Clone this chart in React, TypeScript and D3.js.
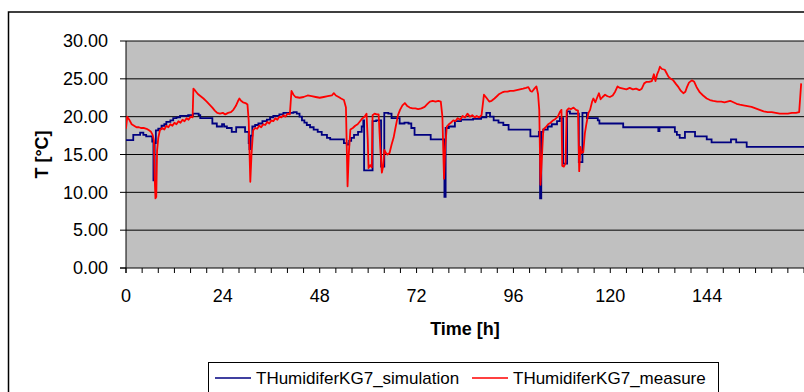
import React from "react";
import * as d3 from "d3";

// Measured humidifier temperature: [time h, T °C]
const measureSeries: [number, number][] = [
  [0, 18.4], [0.3, 20.0], [0.8, 19.6], [1.4, 19.0], [2.0, 18.8], [2.6, 18.6], [3.2, 18.6], [3.8, 18.5],
  [4.5, 18.5], [5.1, 18.4], [5.7, 18.2], [6.2, 18.0], [6.6, 17.6], [6.9, 16.9], [7.1, 12.0], [7.3, 9.2],
  [7.5, 9.4], [7.7, 15.5], [8.0, 17.2], [8.4, 18.2], [9.0, 18.5], [9.5, 18.3], [10.0, 18.8], [10.5, 18.6],
  [11.0, 19.0], [11.5, 18.8], [12.0, 19.2], [12.5, 19.0], [13.0, 19.4], [13.5, 19.2], [14.0, 19.6],
  [14.5, 19.4], [15.0, 19.8], [15.5, 19.6], [16.0, 20.0], [16.5, 19.9], [16.7, 23.7], [17.2, 23.4],
  [17.8, 23.0], [18.5, 22.7], [19.2, 22.4], [20.0, 22.0], [20.7, 21.6], [21.4, 21.2], [22.0, 20.8],
  [22.6, 20.5], [23.3, 20.4], [24.0, 20.5], [24.6, 20.3], [25.3, 20.5], [26.0, 20.6], [26.6, 20.9],
  [27.2, 21.4], [27.7, 22.0], [28.1, 22.4], [28.5, 22.1], [29.0, 21.9], [29.6, 21.8], [30.1, 21.6],
  [30.4, 19.5], [30.8, 11.4], [31.1, 15.0], [31.5, 18.2], [32.0, 18.5], [32.5, 18.4], [33.0, 18.8],
  [33.5, 18.6], [34.0, 19.0], [34.5, 18.9], [35.0, 19.3], [35.5, 19.1], [36.0, 19.5], [36.5, 19.4],
  [37.0, 19.8], [37.5, 19.6], [38.0, 20.0], [38.5, 19.9], [39.0, 20.2], [39.5, 20.0], [40.0, 20.4],
  [40.6, 20.3], [41.0, 23.4], [41.5, 22.9], [42.0, 22.6], [43.0, 22.5], [44.0, 22.6], [45.0, 22.8],
  [46.0, 22.7], [47.0, 22.6], [48.0, 22.5], [49.0, 22.6], [50.0, 22.7], [51.0, 22.8], [51.5, 23.1],
  [52.0, 22.8], [52.7, 22.6], [53.3, 22.4], [54.0, 22.2], [54.5, 21.2], [54.9, 10.8], [55.2, 15.0],
  [55.6, 18.3], [56.2, 18.5], [56.8, 18.8], [57.4, 19.0], [58.0, 19.4], [58.6, 19.8], [59.1, 20.0],
  [59.6, 20.4], [59.9, 17.0], [60.1, 13.2], [60.5, 13.6], [60.9, 13.3], [61.1, 20.2], [61.6, 20.4],
  [62.1, 20.3], [62.6, 20.3], [63.0, 16.0], [63.4, 12.6], [63.7, 13.4], [64.0, 15.6], [64.4, 15.2],
  [64.8, 15.0], [65.3, 15.2], [65.8, 16.3], [66.3, 17.2], [66.8, 18.6], [67.4, 20.2], [67.9, 20.9],
  [68.5, 21.5], [69.1, 21.8], [69.7, 21.4], [70.3, 21.2], [71.0, 21.1], [71.7, 21.1], [72.4, 21.0],
  [73.2, 21.1], [74.0, 21.3], [74.7, 21.7], [75.3, 22.0], [76.0, 22.1], [76.7, 22.0], [77.4, 22.1],
  [78.0, 22.0], [78.4, 20.0], [78.8, 11.8], [79.1, 16.0], [79.5, 18.7], [80.0, 19.0], [80.5, 19.2],
  [81.1, 19.5], [81.6, 19.4], [82.2, 19.8], [82.8, 19.6], [83.4, 20.1], [84.0, 19.9], [84.6, 20.4],
  [85.2, 20.0], [85.8, 20.2], [86.4, 19.9], [86.9, 20.1], [87.5, 19.9], [88.1, 20.2], [88.7, 22.9],
  [89.3, 22.5], [90.0, 22.0], [90.6, 22.1], [91.3, 22.4], [91.9, 22.7], [92.5, 23.0], [93.2, 23.2],
  [93.8, 23.3], [94.5, 23.3], [95.2, 23.4], [96.0, 23.4], [96.8, 23.5], [97.6, 23.6], [98.4, 23.7],
  [99.1, 23.8], [99.7, 23.9], [100.2, 23.4], [100.6, 23.3], [101.2, 23.7], [101.7, 24.0], [102.1, 23.0],
  [102.4, 20.9], [102.7, 11.0], [103.0, 14.0], [103.4, 18.3], [104.0, 18.6], [104.6, 19.0], [105.2, 19.2],
  [105.8, 19.5], [106.4, 19.7], [107.0, 20.0], [107.5, 20.6], [107.9, 20.9], [108.1, 13.5], [108.5, 13.4],
  [108.9, 13.8], [109.2, 20.8], [109.7, 21.1], [110.3, 21.0], [110.9, 21.2], [111.5, 20.9], [112.0, 20.8],
  [112.3, 12.8], [112.6, 16.0], [112.9, 15.2], [113.3, 15.3], [113.7, 17.8], [114.1, 19.1], [114.6, 20.5],
  [115.0, 20.9], [115.5, 22.0], [115.8, 22.4], [116.3, 21.9], [116.8, 22.6], [117.2, 23.1], [117.6, 22.3],
  [118.1, 22.6], [118.7, 22.9], [119.3, 22.7], [119.9, 22.6], [120.6, 22.8], [121.2, 23.3], [121.8, 24.0],
  [122.4, 23.8], [123.2, 23.7], [124.0, 23.6], [124.8, 23.8], [125.6, 23.6], [126.4, 23.7], [127.2, 23.5],
  [127.8, 23.7], [128.4, 24.4], [129.0, 24.6], [129.6, 24.6], [130.3, 24.7], [130.8, 25.6], [131.2, 24.7],
  [131.6, 25.6], [132.0, 26.1], [132.3, 26.6], [132.8, 26.3], [133.5, 26.2], [134.0, 25.7], [134.4, 25.3],
  [135.0, 25.0], [135.6, 24.8], [136.3, 24.3], [136.9, 23.9], [137.5, 23.4], [138.1, 23.1], [138.6, 23.3],
  [139.0, 23.9], [139.5, 24.5], [140.2, 24.8], [140.8, 24.6], [141.4, 23.9], [142.2, 23.2], [143.0, 22.8],
  [143.9, 22.4], [144.7, 22.2], [145.5, 22.1], [146.5, 22.0], [147.5, 22.0], [148.3, 21.9], [149.0, 22.0],
  [149.7, 22.1], [150.5, 21.9], [151.3, 21.7], [152.1, 21.6], [153.0, 21.5], [154.0, 21.4], [155.0, 21.3],
  [156.0, 21.1], [157.0, 20.9], [158.0, 20.7], [159.0, 20.6], [160.0, 20.6], [161.0, 20.5], [162.0, 20.4],
  [163.0, 20.4], [164.0, 20.4], [165.0, 20.5], [166.0, 20.5], [166.8, 20.6], [167.3, 24.4],
];

// Simulated humidifier temperature (stepwise output): [time h, T °C]
const simulationSeries: [number, number][] = [
  [0, 16.9], [1.8, 17.6], [3.5, 17.9], [4.3, 17.6], [5.0, 17.4], [6.5, 16.7], [6.8, 11.6], [7.1, 16.5],
  [7.4, 18.2], [8.0, 18.4], [8.8, 18.8], [9.5, 19.0], [10.0, 19.3], [11.0, 19.5], [11.7, 19.8],
  [12.5, 19.9], [13.4, 20.1], [15.4, 20.2], [16.6, 20.4], [18.0, 20.2], [18.4, 19.8], [21.4, 19.1],
  [22.5, 18.7], [23.8, 19.0], [24.3, 18.7], [25.0, 18.5], [26.2, 18.0], [27.3, 18.6], [29.5, 18.0],
  [30.4, 16.5], [30.6, 15.7], [30.9, 17.5], [31.3, 18.7], [32.0, 18.9], [32.8, 19.1], [33.8, 19.4],
  [34.9, 19.6], [35.7, 19.9], [36.5, 20.1], [38.0, 20.3], [39.0, 20.5], [41.5, 20.6], [42.3, 20.4],
  [43.0, 20.0], [43.6, 19.5], [44.2, 19.2], [44.8, 18.9], [45.6, 18.6], [46.5, 18.3], [47.5, 18.0],
  [48.5, 17.6], [49.8, 17.2], [50.6, 17.0], [54.0, 16.5], [54.7, 16.3], [55.3, 16.8], [55.8, 17.2],
  [56.5, 17.6], [57.5, 18.0], [58.4, 18.7], [58.8, 19.5], [59.0, 12.9], [61.1, 19.4], [62.0, 19.5],
  [63.2, 13.4], [64.0, 20.5], [65.0, 20.4], [65.8, 19.8], [67.8, 19.1], [69.0, 19.2], [70.0, 19.1],
  [70.7, 18.5], [71.5, 17.6], [75.5, 17.0], [78.9, 9.4], [79.2, 18.5], [80.0, 18.7], [81.5, 19.4],
  [83.0, 19.6], [86.0, 19.7], [88.0, 19.9], [89.3, 20.5], [90.2, 20.0], [91.1, 19.5], [92.3, 19.2],
  [93.5, 18.9], [94.8, 18.3], [100.2, 17.4], [102.3, 18.0], [102.6, 9.2], [102.9, 18.0], [103.4, 18.3],
  [104.5, 18.7], [105.5, 19.0], [106.8, 19.4], [107.5, 19.8], [108.3, 13.8], [109.3, 20.7], [110.0, 20.4],
  [112.2, 14.0], [113.1, 20.5], [114.2, 19.8], [116.9, 19.5], [117.3, 19.1], [123.2, 18.6], [131.9, 18.1],
  [132.2, 18.6], [136.0, 18.0], [136.5, 17.6], [137.2, 17.2], [138.5, 18.0], [141.0, 17.4], [143.9, 17.0],
  [145.1, 16.6], [149.9, 17.0], [151.2, 16.6], [153.8, 16.0], [168, 16.0],
];

const yTicks = [0, 5, 10, 15, 20, 25, 30];
const xMinorTicks = d3.range(0, 169, 4);
const xLabelTicks = [0, 24, 48, 72, 96, 120, 144];

const seriesNames = ["THumidiferKG7_simulation", "THumidiferKG7_measure"];
const seriesColors = ["#000080", "#FF0000"];

const W = 804;
const H = 392;
const plot = { left: 126, right: 804, top: 41, bottom: 268 };
const font = "Arial, 'Liberation Sans', Helvetica, sans-serif";

export default function App() {
  const x = d3.scaleLinear().domain([0, 168]).range([plot.left, plot.right]);
  const y = d3.scaleLinear().domain([0, 30]).range([plot.bottom, plot.top]);

  const measureLine = d3
    .line<[number, number]>()
    .x((d) => x(d[0]))
    .y((d) => y(d[1]))
    .curve(d3.curveLinear);

  const simLine = d3
    .line<[number, number]>()
    .x((d) => x(d[0]))
    .y((d) => y(d[1]))
    .curve(d3.curveStepAfter);

  return (
    <svg
      width={W}
      height={H}
      style={{ position: "absolute", left: 0, top: 0, background: "#fff" }}
      fontFamily={font}
    >
      <defs>
        <clipPath id="plotClip">
          <rect x={plot.left} y={plot.top - 2} width={plot.right - plot.left + 2} height={plot.bottom - plot.top + 4} />
        </clipPath>
      </defs>

      {/* chart frame */}
      <rect x={8.5} y={12} width={W + 20} height={H + 20} fill="#fff" stroke="#000" strokeWidth={1.5} />

      {/* plot area */}
      <rect x={plot.left} y={plot.top} width={plot.right - plot.left + 4} height={plot.bottom - plot.top} fill="#C0C0C0" />

      {/* gridlines */}
      {yTicks.filter((t) => t > 0).map((t) => (
        <line key={`g${t}`} x1={plot.left} x2={W} y1={y(t)} y2={y(t)} stroke="#000" strokeWidth={1} />
      ))}

      {/* y axis */}
      <line x1={plot.left} x2={plot.left} y1={plot.top} y2={plot.bottom + 5} stroke="#000" strokeWidth={1} />
      {yTicks.map((t) => (
        <g key={`yt${t}`}>
          <line x1={plot.left - 6} x2={plot.left} y1={y(t)} y2={y(t)} stroke="#000" />
          <text x={108} y={y(t)} dy="0.35em" textAnchor="end" fontSize={18} fill="#000">
            {t.toFixed(2)}
          </text>
        </g>
      ))}

      {/* x axis */}
      <line x1={plot.left - 6} x2={W} y1={plot.bottom} y2={plot.bottom} stroke="#000" strokeWidth={1} />
      {xMinorTicks.map((t) => (
        <line key={`xt${t}`} x1={x(t)} x2={x(t)} y1={plot.bottom} y2={plot.bottom + 5} stroke="#000" />
      ))}
      {xLabelTicks.map((t) => (
        <text key={`xl${t}`} x={x(t)} y={302} textAnchor="middle" fontSize={18} fill="#000">
          {t}
        </text>
      ))}

      {/* series */}
      <g clipPath="url(#plotClip)">
        <path d={simLine(simulationSeries) ?? ""} fill="none" stroke={seriesColors[0]} strokeWidth={1.8} />
        <path d={measureLine(measureSeries) ?? ""} fill="none" stroke={seriesColors[1]} strokeWidth={1.8} strokeLinejoin="round" />
      </g>

      {/* axis titles */}
      <text x={(plot.left + plot.right) / 2} y={335} textAnchor="middle" fontSize={18} fontWeight="bold" fill="#000">
        Time [h]
      </text>
      <text
        transform={`translate(48, ${(plot.top + plot.bottom) / 2}) rotate(-90)`}
        textAnchor="middle"
        fontSize={18}
        fontWeight="bold"
        fill="#000"
      >
        T [°C]
      </text>

      {/* legend */}
      <rect x={208.5} y={362.5} width={510} height={40} fill="#fff" stroke="#000" strokeWidth={1} />
      {seriesNames.map((name, i) => {
        const x0 = i === 0 ? 215 : 472;
        return (
          <g key={name}>
            <line x1={x0} x2={x0 + 36} y1={378} y2={378} stroke={seriesColors[i]} strokeWidth={1.5} />
            <text x={x0 + 41} y={384} fontSize={17} fill="#000">
              {name}
            </text>
          </g>
        );
      })}
    </svg>
  );
}
